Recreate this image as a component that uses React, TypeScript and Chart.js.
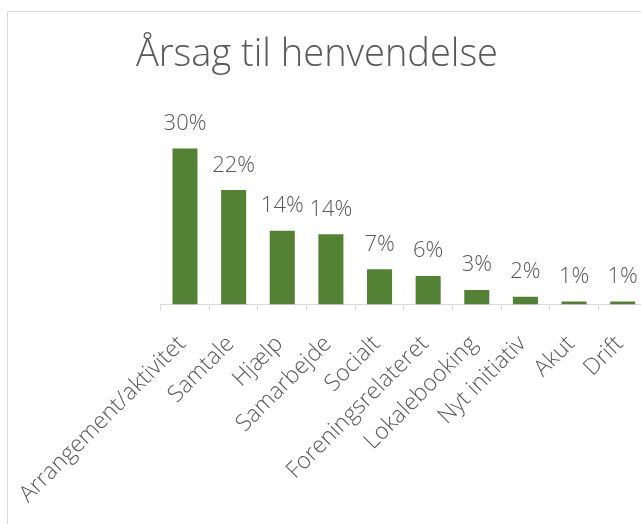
import React, { useEffect, useRef } from 'react';
import { Chart, registerables } from 'chart.js';

Chart.register(...registerables);

const TITLE = 'Årsag til henvendelse';
const categories = [
  'Arrangement/aktivitet',
  'Samtale',
  'Hjælp',
  'Samarbejde',
  'Socialt',
  'Foreningsrelateret',
  'Lokalebooking',
  'Nyt initiativ',
  'Akut',
  'Drift',
];
const values = [30, 22, 14.2, 13.5, 6.8, 5.5, 2.8, 1.5, 0.6, 0.6];

const FONT = '"Open Sans"';
const TEXT = '#595959';
const LINE = '#d9d9d9';
const BAR = '#548235';

export default function App() {
  const ref = useRef<HTMLCanvasElement>(null);
  useEffect(() => {
    const canvas = ref.current!;
    const framePlugin = {
      id: 'frame',
      beforeDraw(chart: any) {
        const ctx = chart.ctx;
        ctx.save();
        ctx.fillStyle = '#fff';
        ctx.fillRect(0, 0, chart.width, chart.height);
        ctx.strokeStyle = LINE;
        ctx.lineWidth = 1;
        ctx.beginPath();
        ctx.moveTo(7.5, chart.height);
        ctx.lineTo(7.5, 11.5);
        ctx.lineTo(chart.width, 11.5);
        ctx.stroke();
        ctx.fillStyle = TEXT;
        ctx.font = `300 38px ${FONT}`;
        ctx.textAlign = 'center';
        ctx.textBaseline = 'alphabetic';
        ctx.fillText(TITLE, 317, 66);
        ctx.restore();
      },
    };
    const labelPlugin = {
      id: 'vals',
      afterDatasetsDraw(chart: any) {
        const ctx = chart.ctx;
        const meta = chart.getDatasetMeta(0);
        ctx.save();
        ctx.fillStyle = TEXT;
        ctx.font = `300 22px ${FONT}`;
        ctx.textAlign = 'center';
        ctx.textBaseline = 'alphabetic';
        meta.data.forEach((bar: any, i: number) => {
          ctx.fillText(Math.round(values[i]) + '%', bar.x, bar.y - 18.5);
        });
        ctx.restore();
      },
    };
    const chart = new Chart(canvas, {
      type: 'bar',
      data: {
        labels: categories,
        datasets: [
          {
            data: values,
            backgroundColor: BAR,
            barPercentage: 1,
            categoryPercentage: 0.515,
          },
        ],
      },
      options: {
        responsive: false,
        animation: false,
        layout: { padding: { left: 160.7, right: 53, top: 96.5, bottom: 0 } },
        plugins: {
          legend: { display: false },
          tooltip: { enabled: false },
          title: { display: false },
        },
        scales: {
          x: {
            grid: { offset: true, drawOnChartArea: false, color: LINE, tickLength: 6 },
            border: { color: LINE },
            ticks: {
              minRotation: 45,
              maxRotation: 45,
              autoSkip: false,
              color: TEXT,
              font: { family: FONT, size: 23, weight: 300 as any },
              padding: 20,
              labelOffset: -3,
            },
            afterFit(scale: any) {
              scale.height = 219.5;
              scale.paddingLeft = 0;
              scale.paddingRight = 0;
            },
          },
          y: { display: false, min: 0, max: 40 },
        },
      },
      plugins: [framePlugin, labelPlugin],
    });
    return () => chart.destroy();
  }, []);
  return (
    <div
      style={{
        position: 'fixed',
        left: 0,
        top: 0,
        width: 641,
        height: 524,
        overflow: 'hidden',
        background: '#fff',
      }}
    >
      <canvas ref={ref} width={700} height={524} />
    </div>
  );
}
